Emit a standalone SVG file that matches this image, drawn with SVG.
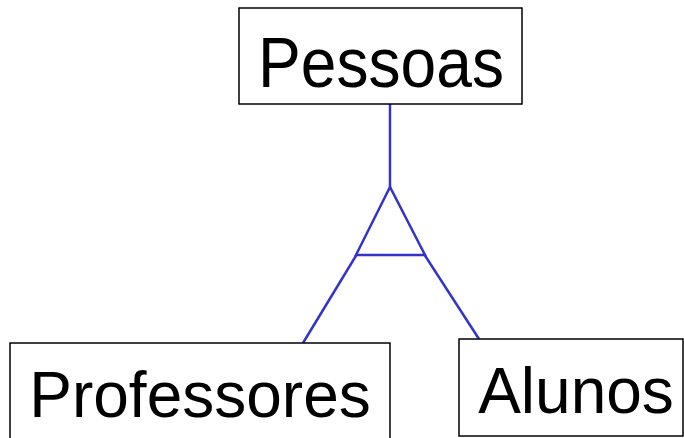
<svg xmlns="http://www.w3.org/2000/svg" width="684" height="438" viewBox="0 0 684 438">
<style>
.box{fill:#fff;stroke:#000;stroke-width:1.5}
.lbl{font-family:"Liberation Sans",Arial,sans-serif;font-size:64px;fill:#000;text-anchor:middle}
.c{stroke:#3333cc;stroke-width:2.5;fill:none;stroke-linejoin:miter}
</style>
<rect width="684" height="438" fill="#fff"/>
<g id="connectors">
<line class="c" x1="390" y1="104" x2="390" y2="188"/>
<polygon class="c" points="390,187 356,255 425,255"/>
<line class="c" x1="357" y1="254" x2="303" y2="343"/>
<line class="c" x1="424" y1="254" x2="479" y2="339"/>
</g>
<g id="pessoas">
<rect class="box" x="239" y="8" width="283" height="96"/>
<text class="lbl" x="258" y="87" style="font-size:70px;text-anchor:start" textLength="246" lengthAdjust="spacingAndGlyphs">Pessoas</text>
</g>
<g id="professores">
<rect class="box" x="10" y="343" width="380" height="100"/>
<text class="lbl" x="200" y="417">Professores</text>
</g>
<g id="alunos">
<rect class="box" x="459" y="339" width="224" height="97"/>
<text class="lbl" x="576" y="413">Alunos</text>
</g>
</svg>
